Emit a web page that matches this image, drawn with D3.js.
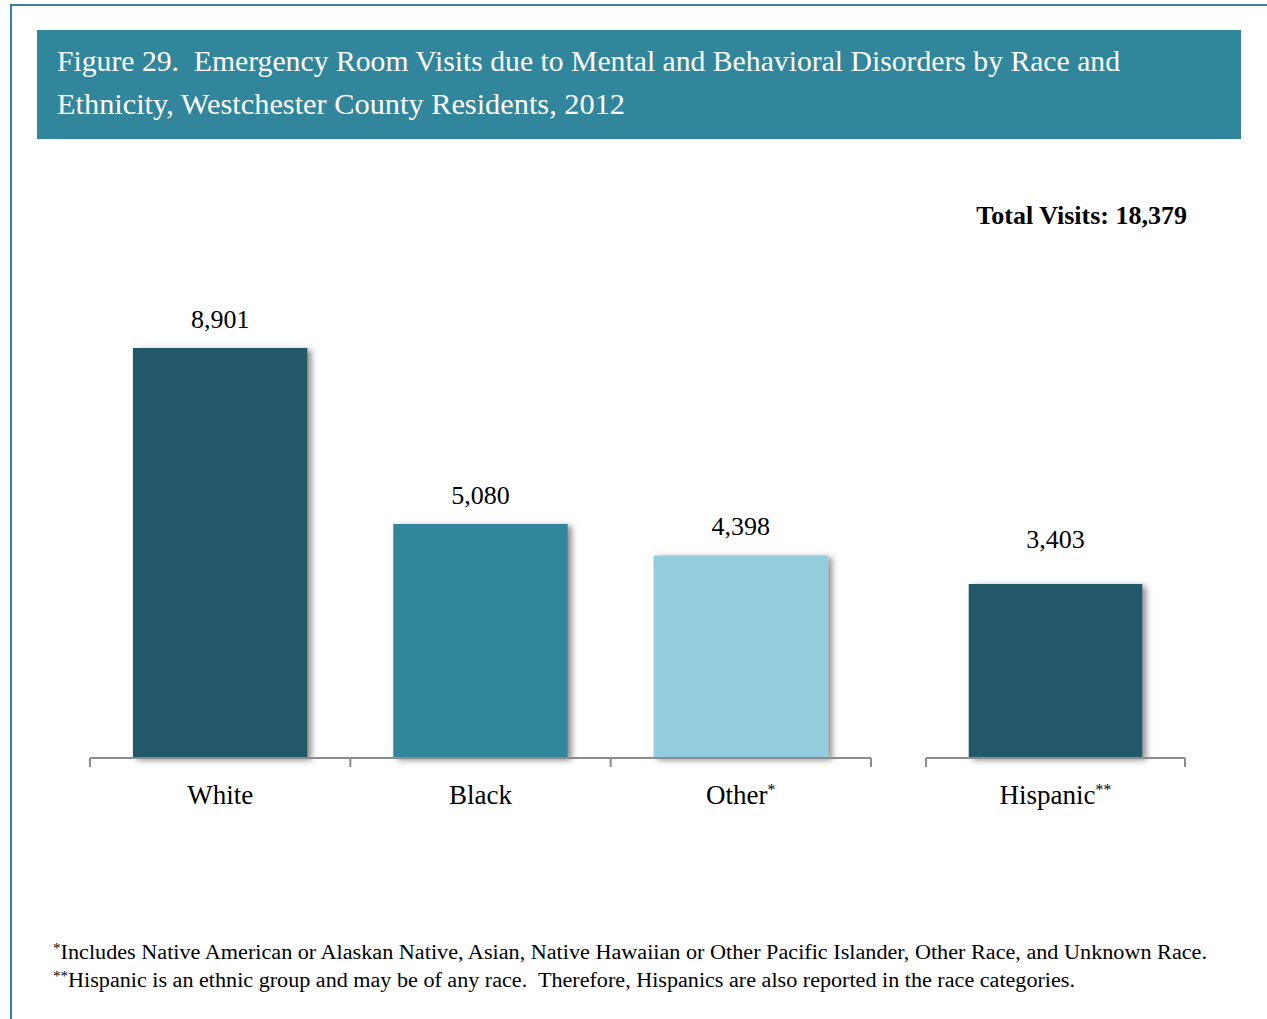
<!DOCTYPE html>
<html lang="en">
<head>
  <meta charset="UTF-8">
  <title>Figure 29</title>
  <script src="https://d3js.org/d3.v7.min.js"></script>
  <style>
    body { margin: 0; background: #fff; }
    svg { display: block; font-family: "Liberation Serif", "DejaVu Serif", serif; }
    text { white-space: pre; }
  </style>
</head>
<body>
  <svg width="1267" height="1019"></svg>

  <script>
    // data
    const raceCategories = ["White", "Black", "Other"];
    const raceValues = [8901, 5080, 4398];
    const raceMarks = ["", "", "*"];
    const raceColors = ["#215968", "#31869b", "#93cddd"];

    const ethCategories = ["Hispanic"];
    const ethValues = [3403];
    const ethMarks = ["**"];
    const ethColors = ["#215968"];

    const totalVisits = 18379;
    const titleLines = [
      "Figure 29.  Emergency Room Visits due to Mental and Behavioral Disorders by Race and",
      "Ethnicity, Westchester County Residents, 2012"
    ];
    const titleWidths = [1063, 568];
    const footnotes = [
      ["*", "Includes Native American or Alaskan Native, Asian, Native Hawaiian or Other Pacific Islander, Other Race, and Unknown Race."],
      ["**", "Hispanic is an ethnic group and may be of any race.  Therefore, Hispanics are also reported in the race categories."]
    ];
    const footWidths = [1154, 1022];

    const svg = d3.select("svg");
    const fmt = d3.format(",");
    const baseY = 758;

    // frame
    svg.append("path")
        .attr("d", "M11,1019 V5 H1267")
        .attr("fill", "none")
        .attr("stroke", "#31869b")
        .attr("stroke-width", 2);

    // title box
    svg.append("rect")
        .attr("x", 37).attr("y", 30)
        .attr("width", 1204).attr("height", 109)
        .attr("fill", "#31869b");

    svg.append("g").selectAll("text")
      .data(titleLines)
      .join("text")
        .attr("x", 57)
        .attr("y", (d, i) => 71 + i * 43)
        .attr("fill", "#fff")
        .attr("font-size", 29)
        .attr("textLength", (d, i) => titleWidths[i])
        .attr("lengthAdjust", "spacingAndGlyphs")
        .text(d => d);

    svg.append("text")
        .attr("x", 1187).attr("y", 224)
        .attr("text-anchor", "end")
        .attr("font-size", 26)
        .attr("font-weight", "bold")
        .text("Total Visits: " + fmt(totalVisits));

    // shadow
    const defs = svg.append("defs");
    defs.append("filter")
        .attr("id", "shadow")
        .attr("x", "-10%").attr("y", "-10%")
        .attr("width", "130%").attr("height", "130%")
      .append("feDropShadow")
        .attr("dx", 4).attr("dy", 2)
        .attr("stdDeviation", 3)
        .attr("flood-color", "#000")
        .attr("flood-opacity", 0.45);

    function panel(cats, vals, marks, colors, x0, x1, yMax, labelGap) {
      const x = d3.scaleBand()
          .domain(cats)
          .range([x0, x1])
          .paddingInner(0.33)
          .paddingOuter(0.165);
      const y = d3.scaleLinear()
          .domain([0, yMax])
          .range([baseY, baseY - 410]);

      const g = svg.append("g");

      g.selectAll("rect")
        .data(cats)
        .join("rect")
          .attr("x", d => x(d))
          .attr("y", (d, i) => y(vals[i]))
          .attr("width", x.bandwidth())
          .attr("height", (d, i) => baseY - y(vals[i]))
          .attr("fill", (d, i) => colors[i])
          .attr("filter", "url(#shadow)");

      g.selectAll(".val")
        .data(cats)
        .join("text")
          .attr("class", "val")
          .attr("x", d => x(d) + x.bandwidth() / 2)
          .attr("y", (d, i) => y(vals[i]) - labelGap)
          .attr("text-anchor", "middle")
          .attr("font-size", 26)
          .text((d, i) => fmt(vals[i]));

      // axis line with ticks at band edges
      const edges = [x0].concat(cats.map(d => x(d) + x.bandwidth() + x.step() * x.paddingInner() / 2));
      edges[edges.length - 1] = x1;
      g.append("line")
          .attr("x1", x0).attr("x2", x1)
          .attr("y1", baseY).attr("y2", baseY)
          .attr("stroke", "#8c8c8c").attr("stroke-width", 2);
      g.selectAll(".tick")
        .data(edges)
        .join("line")
          .attr("class", "tick")
          .attr("x1", d => d).attr("x2", d => d)
          .attr("y1", baseY).attr("y2", baseY + 9)
          .attr("stroke", "#8c8c8c").attr("stroke-width", 2);

      const lab = g.selectAll(".cat")
        .data(cats)
        .join("text")
          .attr("class", "cat")
          .attr("x", d => x(d) + x.bandwidth() / 2)
          .attr("y", 804)
          .attr("text-anchor", "middle")
          .attr("font-size", 27);
      lab.append("tspan").text(d => d);
      lab.append("tspan")
          .attr("font-size", 16)
          .attr("dy", -9)
          .text((d, i) => marks[i]);
    }

    panel(raceCategories, raceValues, raceMarks, raceColors, 90, 871, 8901, 20);
    // Hispanic is drawn on its own scale in the original
    panel(ethCategories, ethValues, ethMarks, ethColors, 926, 1185, 8019, 36);

    // footnotes
    const fn = svg.append("g").selectAll("text")
      .data(footnotes)
      .join("text")
        .attr("x", 53)
        .attr("y", (d, i) => 959 + i * 28)
        .attr("font-size", 20.5)
        .attr("textLength", (d, i) => footWidths[i])
        .attr("lengthAdjust", "spacingAndGlyphs");
    fn.append("tspan")
        .attr("font-size", 14)
        .attr("dy", -6)
        .text(d => d[0]);
    fn.append("tspan")
        .attr("dy", 6)
        .text(d => d[1]);
  </script>
</body>
</html>
